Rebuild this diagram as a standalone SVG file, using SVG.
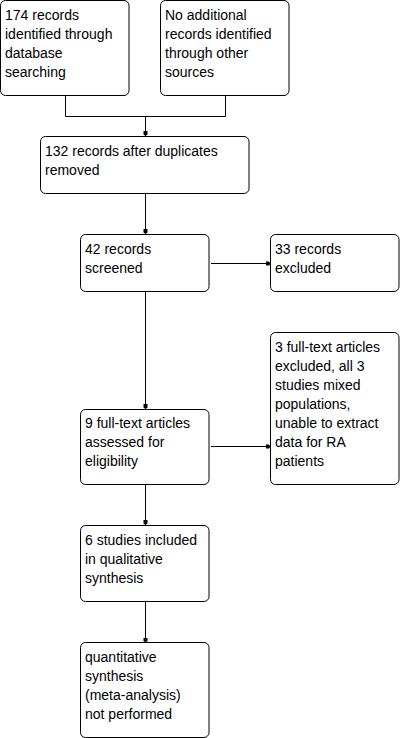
<svg xmlns="http://www.w3.org/2000/svg" width="400" height="738" viewBox="0 0 400 738">
<defs>
<style>
.box{fill:#fff;stroke:#000;stroke-width:1}
text{font-family:"Liberation Sans",Arial,sans-serif;font-size:14px;fill:#000}
.c{fill:none;stroke:#000;stroke-width:1}
</style>
<marker id="ah" viewBox="0 0 5 5" refX="5" refY="2.5" markerWidth="5" markerHeight="5" markerUnits="userSpaceOnUse" orient="auto">
<path d="M0,0.5 L3.5,0.5 L5,2.5 L3.5,4.5 L0,4.5 Z" fill="#000"/>
</marker>
</defs>
<rect width="400" height="738" fill="#fff"/>
<g id="connectors">
<path class="c" d="M65.5,95.5 V116.5 H225.5 V95.5"/>
<path class="c" d="M145.5,116.5 V136" marker-end="url(#ah)"/>
<path class="c" d="M145.5,193.5 V234" marker-end="url(#ah)"/>
<path class="c" d="M211,263.5 H270.5" marker-end="url(#ah)"/>
<path class="c" d="M145.5,291.5 V409" marker-end="url(#ah)"/>
<path class="c" d="M211,446.5 H270.5" marker-end="url(#ah)"/>
<path class="c" d="M145.5,484.5 V525" marker-end="url(#ah)"/>
<path class="c" d="M145.5,601.5 V642.5" marker-end="url(#ah)"/>
</g>
<g id="n1">
<rect class="box" x="0.5" y="0.5" width="128.5" height="95" rx="5"/>
<text x="5" y="20">174 records</text>
<text x="5" y="39">identified through</text>
<text x="5" y="58">database</text>
<text x="5" y="77">searching</text>
</g>
<g id="n2">
<rect class="box" x="160.5" y="0.5" width="128.5" height="95" rx="5"/>
<text x="165" y="20">No additional</text>
<text x="165" y="39">records identified</text>
<text x="165" y="58">through other</text>
<text x="165" y="77">sources</text>
</g>
<g id="n3">
<rect class="box" x="40.5" y="136.5" width="208.5" height="57" rx="5"/>
<text x="45" y="156">132 records after duplicates</text>
<text x="45" y="175">removed</text>
</g>
<g id="n4">
<rect class="box" x="80.5" y="234.5" width="128.5" height="57" rx="5"/>
<text x="85" y="254">42 records</text>
<text x="85" y="273">screened</text>
</g>
<g id="n5">
<rect class="box" x="270.5" y="234.5" width="128.5" height="57" rx="5"/>
<text x="275" y="254">33 records</text>
<text x="275" y="273">excluded</text>
</g>
<g id="n6">
<rect class="box" x="270.5" y="332.5" width="128.5" height="152" rx="5"/>
<text x="275" y="352">3 full-text articles</text>
<text x="275" y="371">excluded, all 3</text>
<text x="275" y="390">studies mixed</text>
<text x="275" y="409">populations,</text>
<text x="275" y="428">unable to extract</text>
<text x="275" y="447">data for RA</text>
<text x="275" y="466">patients</text>
</g>
<g id="n7">
<rect class="box" x="80.5" y="409.5" width="128.5" height="75" rx="5"/>
<text x="85" y="428">9 full-text articles</text>
<text x="85" y="447">assessed for</text>
<text x="85" y="466">eligibility</text>
</g>
<g id="n8">
<rect class="box" x="80.5" y="525.5" width="128.5" height="76" rx="5"/>
<text x="85" y="545">6 studies included</text>
<text x="85" y="564">in qualitative</text>
<text x="85" y="583">synthesis</text>
</g>
<g id="n9">
<rect class="box" x="80.5" y="642.5" width="128.5" height="95" rx="5"/>
<text x="85" y="662">quantitative</text>
<text x="85" y="681">synthesis</text>
<text x="85" y="700">(meta-analysis)</text>
<text x="85" y="719">not performed</text>
</g>
</svg>
